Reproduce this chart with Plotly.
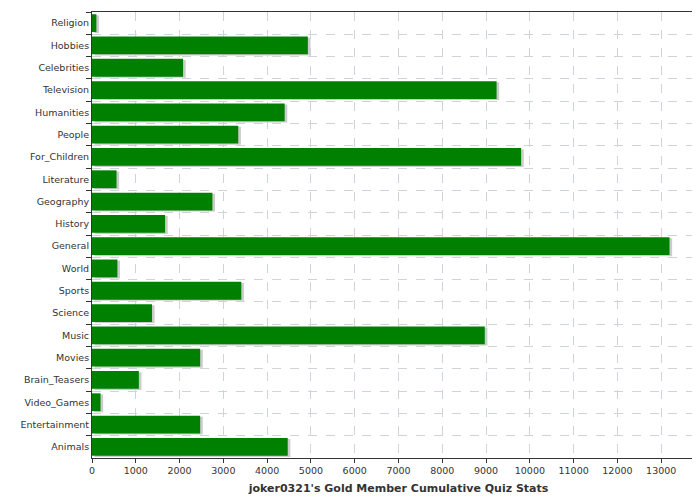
import plotly.graph_objects as go

categories = ["Religion","Hobbies","Celebrities","Television","Humanities","People","For_Children",
              "Literature","Geography","History","General","World","Sports","Science","Music","Movies",
              "Brain_Teasers","Video_Games","Entertainment","Animals"]
values = [100,4930,2080,9240,4400,3340,9800,560,2750,1670,13190,580,3410,1370,8970,2470,1070,195,2470,4470]
x_ticks = list(range(0, 14001, 1000))
title = "joker0321's Gold Member Cumulative Quiz Stats"

fig = go.Figure()
fig.add_trace(go.Bar(y=categories, x=values, base=[60]*len(values), orientation="h",
                     marker=dict(color="#cccccc", line=dict(width=0)), width=0.8, offset=-0.35,
                     hoverinfo="skip"))
fig.add_trace(go.Bar(y=categories, x=values, orientation="h",
                     marker=dict(color="#008000", line=dict(width=0)), width=0.8, offset=-0.4))
fig.update_layout(
    width=700, height=500, barmode="overlay", showlegend=False,
    margin=dict(l=84, r=3, t=4, b=50, autoexpand=False),
    plot_bgcolor="white", paper_bgcolor="white",
    font=dict(family="DejaVu Sans", size=9.5, color="#333333"),
    xaxis=dict(range=[0, 14000], tickvals=x_ticks, ticktext=[str(v) for v in x_ticks],
               showgrid=True, gridcolor="#cfd4dc", griddash="dash", gridwidth=1,
               ticks="outside", ticklen=4, tickcolor="#333", showline=True, linecolor="#333",
               mirror=True, zeroline=False, automargin=False,
               title=dict(text="<b>"+title+"</b>", font=dict(size=11, color="#333"), standoff=8)),
    yaxis=dict(categoryorder="array", categoryarray=categories, autorange="reversed",
               tickson="boundaries", ticks="outside", ticklen=5, tickcolor="#333",
               showgrid=True, gridcolor="#cfd4dc", griddash="dash", automargin=False,
               showline=True, linecolor="#333", mirror=True, range=[19.5, -0.5]),
)
fig.write_html("out.html")
